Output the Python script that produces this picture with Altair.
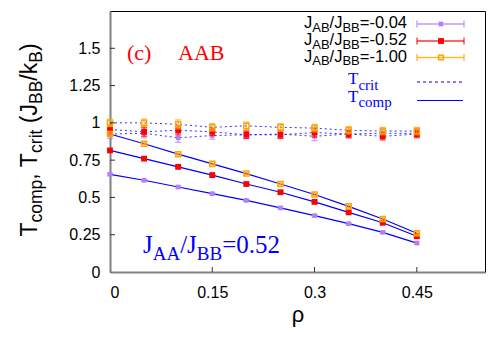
import altair as alt
import pandas as pd

# ---------------- data ----------------
rho = [0.0, 0.05, 0.10, 0.15, 0.20, 0.25, 0.30, 0.35, 0.40, 0.45]
series = ["-0.04", "-0.52", "-1.00"]
colors = ["#b67ff5", "#ff0000", "#ffa500"]

tcomp = {
    "-0.04": [0.655, 0.615, 0.570, 0.525, 0.480, 0.430, 0.378, 0.324, 0.266, 0.194],
    "-0.52": [0.815, 0.760, 0.705, 0.650, 0.590, 0.535, 0.470, 0.400, 0.330, 0.240],
    "-1.00": [0.925, 0.860, 0.790, 0.725, 0.660, 0.590, 0.520, 0.440, 0.355, 0.260],
}
tcomp_err = {
    "-0.04": [0.006, 0.006, 0.006, 0.006, 0.006, 0.006, 0.006, 0.007, 0.008, 0.008],
    "-0.52": [0.006, 0.006, 0.006, 0.006, 0.006, 0.006, 0.007, 0.008, 0.008, 0.010],
    "-1.00": [0.006, 0.006, 0.006, 0.006, 0.006, 0.006, 0.007, 0.008, 0.008, 0.010],
}
tcrit = {
    "-0.04": [0.925, 0.930, 0.900, 0.915, 0.920, 0.925, 0.910, 0.925, 0.930, 0.930],
    "-0.52": [0.955, 0.940, 0.950, 0.940, 0.920, 0.920, 0.935, 0.925, 0.910, 0.925],
    "-1.00": [1.000, 1.000, 0.990, 0.970, 0.980, 0.970, 0.965, 0.950, 0.945, 0.945],
}
tcrit_err = {
    "-0.04": [0.030, 0.030, 0.030, 0.025, 0.025, 0.025, 0.030, 0.025, 0.025, 0.025],
    "-0.52": [0.030, 0.030, 0.030, 0.025, 0.025, 0.025, 0.030, 0.025, 0.025, 0.025],
    "-1.00": [0.025, 0.025, 0.030, 0.025, 0.025, 0.025, 0.025, 0.025, 0.025, 0.025],
}
x_ticks = [0, 0.15, 0.3, 0.45]
y_ticks = [0, 0.25, 0.5, 0.75, 1, 1.25, 1.5]

rows = []
for s in series:
    for i, r in enumerate(rho):
        rows.append({
            "series": s, "rho": r,
            "tcomp": tcomp[s][i],
            "tcomp_lo": tcomp[s][i] - tcomp_err[s][i],
            "tcomp_hi": tcomp[s][i] + tcomp_err[s][i],
            "tcrit": tcrit[s][i],
            "tcrit_lo": tcrit[s][i] - tcrit_err[s][i],
            "tcrit_hi": tcrit[s][i] + tcrit_err[s][i],
        })
df = pd.DataFrame(rows)

# ---------------- layout ----------------
OX, OY = 110, 11          # page position of plot origin
W, H = 375, 261
SANS = "Liberation Sans"
SERIF = "Liberation Serif"
BLUE = "#0000ff"

xscale = alt.Scale(domain=[0, 0.55], nice=False, zero=False)
yscale = alt.Scale(domain=[0, 1.75], nice=False, zero=False)
xaxis = alt.Axis(values=x_ticks, labelExpr="'' + datum.value", grid=False, ticks=False,
                 domainColor="#808080", domainWidth=2,
                 labelFont=SANS, labelFontSize=16, labelColor="black",
                 labelPadding=12, title="ρ", titleFont=SANS,
                 titleFontSize=22, titleFontWeight="normal", titleColor="black",
                 titlePadding=4)
yaxis = alt.Axis(values=y_ticks, labelExpr="'' + datum.value", grid=False, ticks=False,
                 domainColor="#808080", domainWidth=2,
                 labelFont=SANS, labelFontSize=16, labelColor="black",
                 labelPadding=10, title=None)

X = lambda f: alt.X(f, type="quantitative", scale=xscale, axis=xaxis)
Y = lambda f: alt.Y(f, type="quantitative", scale=yscale, axis=yaxis)

base = alt.Chart(df)
layers = []

# lines
layers.append(base.mark_line(color=BLUE, strokeWidth=1, strokeDash=[2, 3], opacity=0.8)
              .encode(x=X("rho"), y=Y("tcrit"), detail="series:N"))
layers.append(base.mark_line(color=BLUE, strokeWidth=1.2)
              .encode(x=X("rho"), y=Y("tcomp"), detail="series:N"))

# error bars + points per series
for s, c in zip(series, colors):
    sd = df[df["series"] == s]
    b = alt.Chart(sd)
    for lo, hi in (("tcrit_lo", "tcrit_hi"), ("tcomp_lo", "tcomp_hi")):
        layers.append(b.mark_rule(color=c, strokeWidth=1.2, opacity=0.75)
                      .encode(x=X("rho"), y=Y(lo), y2=alt.Y2(hi)))
        for f in (lo, hi):
            layers.append(b.mark_tick(color=c, thickness=1.2, size=6, opacity=0.75,
                                      orient="horizontal")
                          .encode(x=X("rho"), y=Y(f)))
    for f in ("tcrit", "tcomp"):
        if s == "-0.04":
            m = b.mark_point(shape="square", filled=True, color=c, size=22, opacity=1)
        elif s == "-0.52":
            m = b.mark_point(shape="square", filled=True, color=c, size=34, opacity=1)
        else:
            m = b.mark_point(shape="square", filled=False, color=c, size=26,
                             strokeWidth=1.5, opacity=1)
        layers.append(m.encode(x=X("rho"), y=Y(f)))

# inward tick marks
tk_y = pd.DataFrame({"v": y_ticks[1:]})
tk_x = pd.DataFrame({"v": x_ticks[1:]})
layers.append(alt.Chart(tk_y).mark_rule(color="#333333", strokeWidth=1)
              .encode(y=Y("v"), x=alt.value(0), x2=alt.value(5)))
layers.append(alt.Chart(tk_x).mark_rule(color="#333333", strokeWidth=1)
              .encode(x=X("v"), y=alt.value(H), y2=alt.value(H - 5)))

# ---------------- text helpers ----------------
ARIAL = {"J": .5, "A": .667, "B": .667, "/": .278, "=": .584, "-": .333, ".": .278,
         "c": .5, "o": .556, "m": .833, "p": .556, ",": .278, " ": .278, "T": .611,
         "r": .333, "i": .222, "t": .278, "(": .333, ")": .333, "k": .5}
TIMES = {"J": .389, "A": .722, "B": .667, "/": .278, "=": .564, "-": .333, ".": .25,
         "c": .444, "o": .5, "m": .778, "p": .5, "r": .333, "i": .278, "t": .278,
         "T": .611, " ": .25}
ONE = alt.Data(values=[{"a": 1}])


def tw(s, table, size):
    return sum(table.get(ch, 0.556 if table is ARIAL else 0.5) for ch in s) * size


def txt(px, py, text, size, font, color, angle=0, align="left"):
    kw = dict(text=text, fontSize=size, font=font, color=color,
              align=align, baseline="alphabetic")
    if angle:
        kw["angle"] = angle
    return alt.Chart(ONE).mark_text(**kw).encode(x=alt.value(px - OX), y=alt.value(py - OY))


def compose(segs, x0, y0, msize, ssize, sdy, font, color, table, angle=0):
    out, pos = [], 0.0
    for text, sub in segs:
        size = ssize if sub else msize
        lead = len(text) - len(text.lstrip(" "))
        pos += lead * table[" "] * size
        t = text.strip(" ")
        if angle == 0:
            out.append(txt(x0 + pos, y0 + (sdy if sub else 0), t, size, font, color))
        else:
            out.append(txt(x0 + (sdy if sub else 0), y0 - pos, t, size, font, color, angle=270))
        pos += tw(t, table, size)
    return out, pos


def seg_width(segs, msize, ssize, table):
    return sum(tw(t, table, ssize if sub else msize) for t, sub in segs)


# y axis title (rotated)
ysegs = [("T", 0), ("comp", 1), (", T", 0), ("crit", 1), (" (J", 0), ("BB", 1),
         ("/k", 0), ("B", 1), (")", 0)]
yw = seg_width(ysegs, 23, 17.5, ARIAL)
ytitle, _ = compose(ysegs, 37, 140 + yw / 2, 23, 17.5, 5, SANS, "black", ARIAL, angle=270)
layers += ytitle

# legend
leg_y = [24, 41, 57.5]
for s, c, ly in zip(series, colors, leg_y):
    segs = [("J", 0), ("AB", 1), ("/J", 0), ("BB", 1), ("=" + s, 0)]
    w = seg_width(segs, 16.5, 13, ARIAL)
    t, _ = compose(segs, 407 - w, ly + 4, 16.5, 13, 3.5, SANS, "black", ARIAL)
    layers += t
    layers.append(alt.Chart(ONE).mark_rule(color=c, strokeWidth=1.3, opacity=0.8)
                  .encode(x=alt.value(417 - OX), x2=alt.value(464 - OX), y=alt.value(ly - OY)))
    for ex in (417, 464):
        layers.append(alt.Chart(ONE).mark_rule(color=c, strokeWidth=1.3, opacity=0.8)
                      .encode(x=alt.value(ex - OX), y=alt.value(ly - 3.5 - OY),
                              y2=alt.value(ly + 3.5 - OY)))
    if s == "-1.00":
        pm = alt.Chart(ONE).mark_point(shape="square", filled=False, color=c, size=22,
                                       strokeWidth=1.5, opacity=1)
    else:
        pm = alt.Chart(ONE).mark_point(shape="square", filled=True, color=c,
                                       size=22 if s == "-0.04" else 34, opacity=1)
    layers.append(pm.encode(x=alt.value(441 - OX), y=alt.value(ly - OY)))

for lbl, ty, ly2, dash in (("crit", 84, 82, True), ("comp", 101.5, 100.5, False)):
    layers.append(txt(348, ty, "T", 17, SERIF, BLUE))
    layers.append(txt(348 + 0.611 * 17, ty + 5.5, lbl, 15, SERIF, BLUE))
    kw = dict(color=BLUE, strokeWidth=1.2)
    if dash:
        kw["strokeDash"] = [3, 3]
    layers.append(alt.Chart(ONE).mark_rule(**kw)
                  .encode(x=alt.value(417 - OX), x2=alt.value(463 - OX), y=alt.value(ly2 - OY)))

# panel labels
layers.append(txt(127, 60, "(c)", 22, SERIF, "#ff0000"))
layers.append(txt(178, 60, "AAB", 22, SERIF, "#ff0000"))

jsegs = [("J", 0), ("AA", 1), ("/J", 0), ("BB", 1), ("=0.52", 0)]
jt, _ = compose(jsegs, 143, 253, 25, 19, 7, SERIF, BLUE, TIMES)
layers += jt

chart = alt.layer(*layers).properties(
    width=W, height=H,
    autosize=alt.AutoSizeParams(type="none"),
    padding={"left": OX - 8, "top": OY - 8, "right": 7, "bottom": 70},
    background="white",
).configure_view(stroke="black", strokeWidth=1)

chart.save("out.html", embed_options={"renderer": "svg", "actions": False})
